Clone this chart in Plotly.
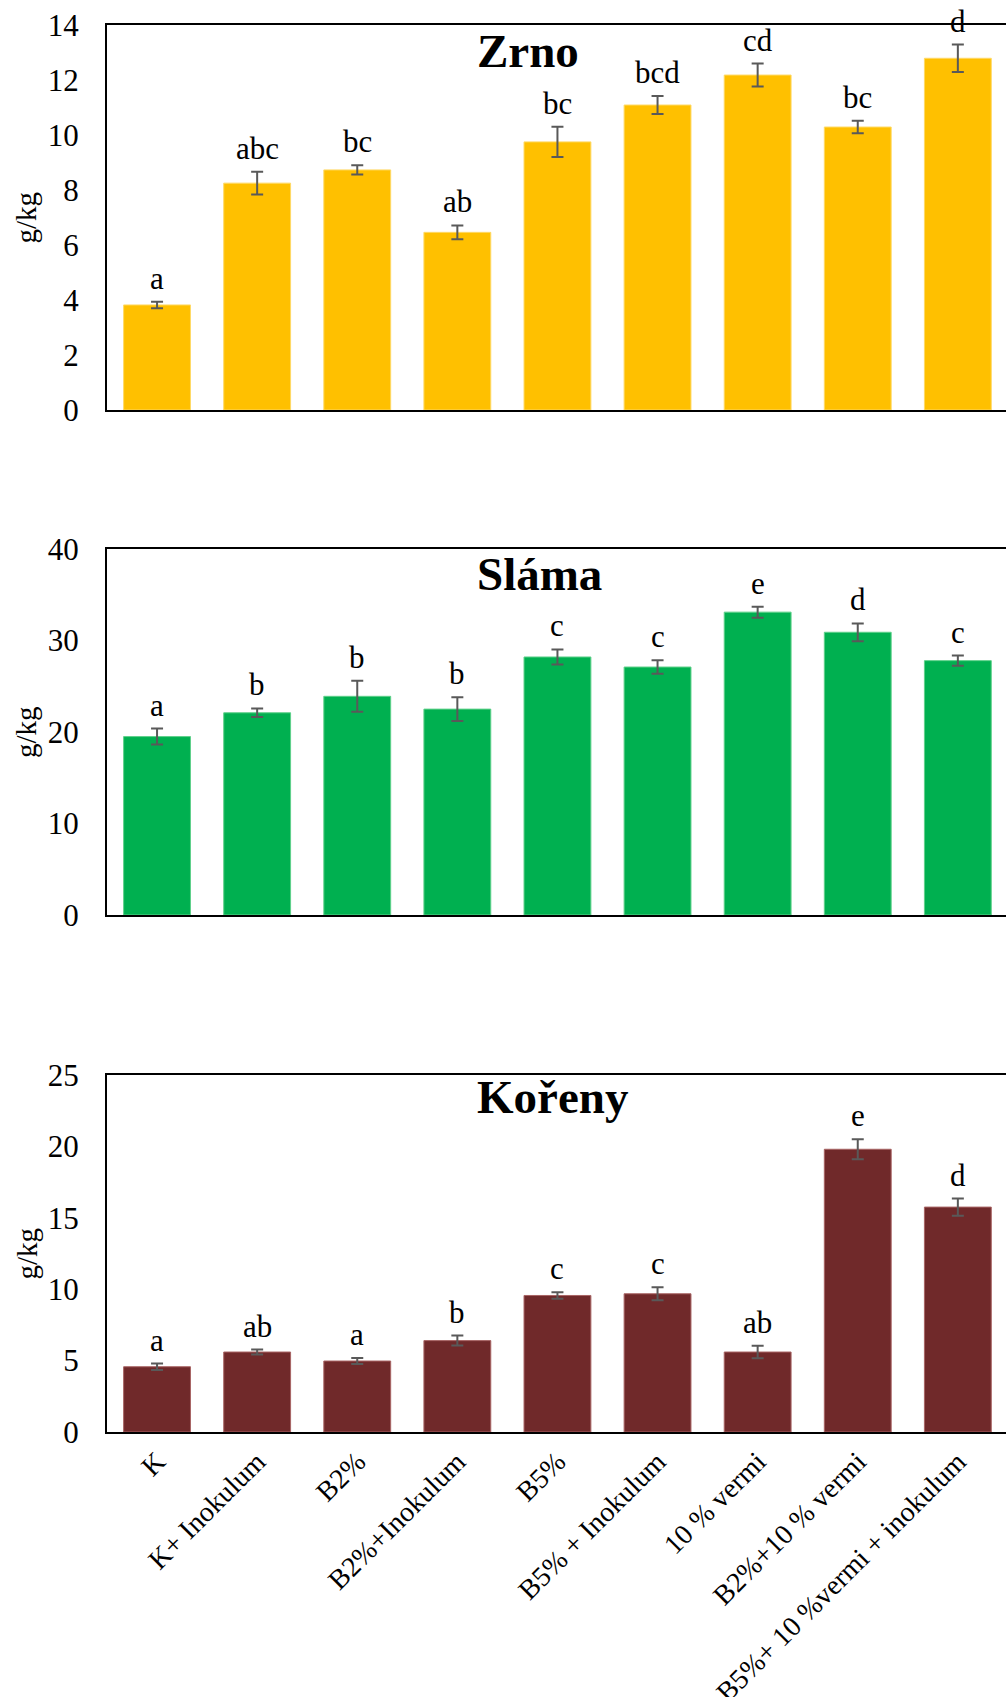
import plotly.graph_objects as go

# ---------------- data ----------------
categories = ["K", "K+ Inokulum", "B2%", "B2%+Inokulum", "B5%", "B5% + Inokulum",
              "10 % vermi", "B2%+10 % vermi", "B5%+ 10 %vermi + inokulum"]

zrno_values = [3.82, 8.25, 8.73, 6.46, 9.75, 11.09, 12.18, 10.29, 12.79]
zrno_errors = [0.12, 0.41, 0.17, 0.25, 0.55, 0.33, 0.42, 0.23, 0.50]
zrno_letters = ["a", "abc", "bc", "ab", "bc", "bcd", "cd", "bc", "d"]

slama_values = [19.5, 22.1, 23.9, 22.5, 28.2, 27.1, 33.1, 30.9, 27.8]
slama_errors = [0.87, 0.47, 1.7, 1.3, 0.82, 0.73, 0.6, 0.97, 0.55]
slama_letters = ["a", "b", "b", "b", "c", "c", "e", "d", "c"]

koreny_values = [4.57, 5.6, 4.97, 6.4, 9.56, 9.68, 5.6, 19.8, 15.75]
koreny_errors = [0.22, 0.17, 0.21, 0.35, 0.23, 0.45, 0.44, 0.7, 0.6]
koreny_letters = ["a", "ab", "a", "b", "c", "c", "ab", "e", "d"]

titles = ["Zrno", "Sláma", "Kořeny"]
y_ranges = [[0, 14], [0, 40], [0, 25]]
y_dticks = [2, 10, 5]
colors = ["#FFC000", "#00B050", "#70292A"]
edge_colors = ["#FFD966", "#5FD08A", "#A86464"]

# ---------------- layout helpers ----------------
W, H = 1006, 1697
FONT = "Liberation Serif"
# panel pixel boxes (top, bottom)
panels_px = [(25, 410), (549, 915), (1075, 1432)]
left_px = 107
title_px_y = [51, 574, 1097]


def py(px):
    return 1 - px / H


fig = go.Figure()
series = [(zrno_values, zrno_errors, zrno_letters),
          (slama_values, slama_errors, slama_letters),
          (koreny_values, koreny_errors, koreny_letters)]

annotations = []
x_idx = list(range(len(categories)))
for k, (vals, errs, letters) in enumerate(series):
    sfx = "" if k == 0 else str(k + 1)
    fig.add_trace(go.Bar(
        x=x_idx, y=vals,
        xaxis="x" + sfx, yaxis="y" + sfx,
        width=0.668,
        marker=dict(color=colors[k], line=dict(color=edge_colors[k], width=1)),
        error_y=dict(type="data", array=errs, color="#595959", thickness=2, width=6),
        showlegend=False, hoverinfo="skip",
    ))
    top, bot = panels_px[k]
    fig.layout["xaxis" + sfx] = dict(
        domain=[left_px / W, 1], anchor="y" + sfx,
        range=[-0.5, -0.5 + (W - left_px) / 100.1],
        showline=True, linecolor="black", linewidth=2, mirror=True,
        showgrid=False, zeroline=False, ticks="", automargin=False,
        tickmode="array", tickvals=x_idx,
        ticktext=categories if k == 2 else [""] * len(categories),
        showticklabels=(k == 2),
        tickangle=-45,
        tickfont=dict(family=FONT, size=28, color="black"),
    )
    fig.layout["yaxis" + sfx] = dict(
        domain=[py(bot), py(top)], anchor="x" + sfx,
        range=y_ranges[k], dtick=y_dticks[k],
        showline=True, linecolor="black", linewidth=2, mirror=False,
        showgrid=False, zeroline=False, ticks="", automargin=False,
        ticklabelstandoff=20,
        tickfont=dict(family=FONT, size=31, color="black"),
    )
    # significance letters
    for i, (v, e, lab) in enumerate(zip(vals, errs, letters)):
        annotations.append(dict(
            x=i, y=v + e, xref="x" + sfx, yref="y" + sfx,
            text=lab, showarrow=False, yanchor="bottom", yshift=4,
            font=dict(family=FONT, size=31, color="black"),
        ))
    # panel title
    annotations.append(dict(
        x=475 / W, y=py(title_px_y[k]), xref="paper", yref="paper",
        text="<b>" + titles[k] + "</b>", showarrow=False,
        xanchor="left", yanchor="middle",
        font=dict(family=FONT, size=47, color="black"),
    ))
    # y-axis title
    annotations.append(dict(
        x=26 / W, y=py((top + bot) / 2), xref="paper", yref="paper",
        text="g/kg", showarrow=False, textangle=-90,
        xanchor="center", yanchor="middle",
        font=dict(family=FONT, size=29, color="black"),
    ))

fig.update_layout(
    template="none",
    width=W, height=H,
    margin=dict(l=0, r=0, t=0, b=0, autoexpand=False),
    paper_bgcolor="white", plot_bgcolor="white",
    font=dict(family=FONT, color="black"),
    annotations=annotations,
    hovermode=False,
)

fig.write_html("out.html",
               config={"displayModeBar": False, "staticPlot": True},
               post_script="document.body.style.margin='0';document.body.style.overflow='hidden';")
